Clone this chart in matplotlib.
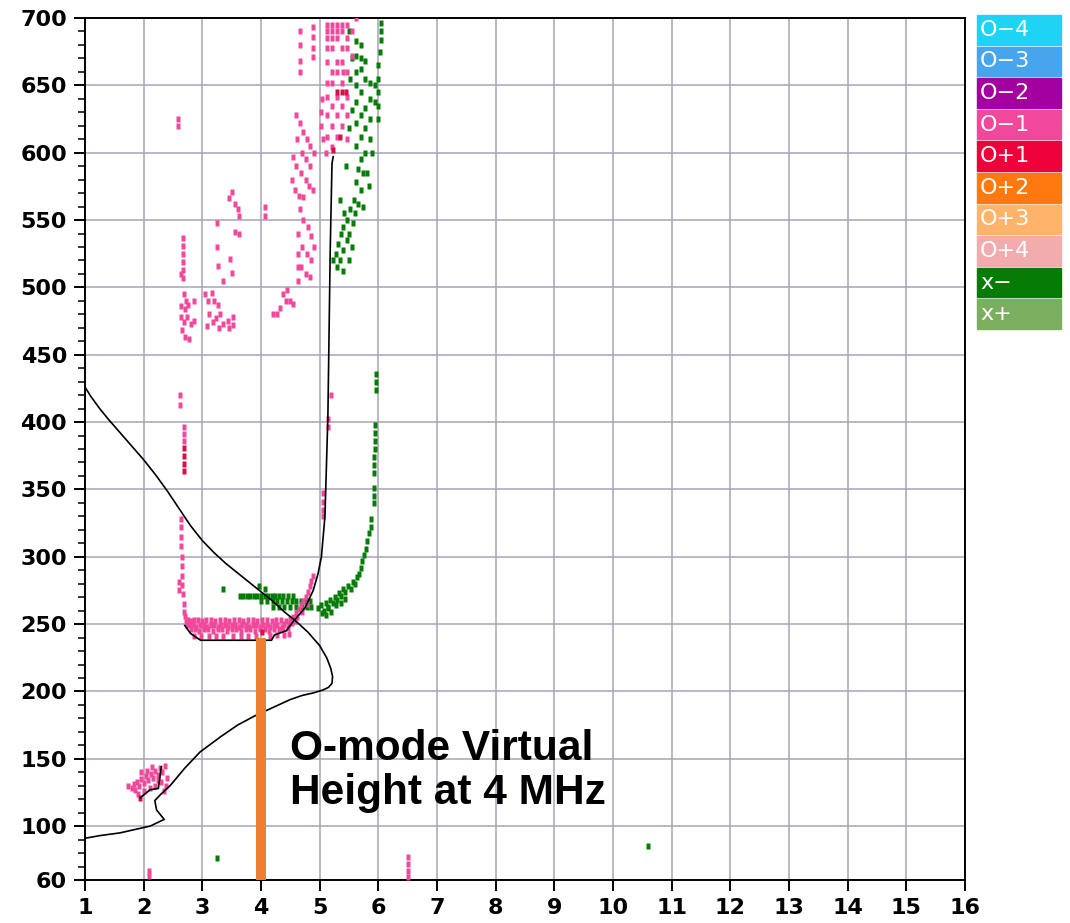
import matplotlib
matplotlib.use("Agg")
import matplotlib.pyplot as plt
from matplotlib.patches import Rectangle

# ---------------- data ----------------
x_ticks = list(range(1, 17))
y_ticks = [60, 100, 150, 200, 250, 300, 350, 400, 450, 500, 550, 600, 650, 700]

legend_labels = ["O\u22124", "O\u22123", "O\u22122", "O\u22121", "O+1", "O+2", "O+3", "O+4", "x\u2212", "x+"]
legend_colors = ["#1ed3f4", "#47a5ee", "#a4009f", "#f2489c", "#ee003a",
                 "#ff7810", "#ffb46a", "#f2acae", "#047c06", "#7cae60"]

# O-1 echoes: main F-trace band
o1_band_f = [2.72, 2.76, 2.81, 2.86, 2.93, 3.00, 3.06, 3.14, 3.22, 3.30, 3.38, 3.46, 3.54, 3.62, 3.70,
             3.78, 3.86, 3.94, 4.02, 4.10, 4.18, 4.26, 4.34, 4.42, 4.50,
             2.74, 2.79, 2.84, 2.90, 2.96, 3.03, 3.08, 3.15, 3.20, 3.27, 3.32, 3.39, 3.44, 3.51, 3.56,
             3.63, 3.68, 3.75, 3.80, 3.87, 3.92, 3.99, 4.04, 4.11, 4.16, 4.23, 4.28, 4.35, 4.40, 4.47, 4.53, 4.58,
             2.80, 2.88, 2.95, 3.02, 3.10, 3.18, 3.26, 3.34, 3.42, 3.50, 3.58, 3.66, 3.74, 3.82, 3.90,
             3.98, 4.06, 4.14, 4.22, 4.30, 4.38, 4.46,
             2.86, 2.98, 3.12, 3.24, 3.36, 3.52, 3.66, 3.78, 3.92, 4.16, 4.28, 4.40, 4.48]
o1_band_h = [253, 253, 252, 253, 253, 252, 253, 253, 252, 253, 253, 252, 253, 253, 252,
             253, 253, 252, 253, 253, 252, 253, 253, 252, 254,
             249, 249, 249, 248, 249, 249, 248, 249, 249, 248, 249, 249, 248, 249, 249,
             248, 249, 249, 248, 249, 249, 248, 249, 249, 248, 249, 249, 248, 250, 250, 251, 252,
             246, 246, 245, 246, 246, 245, 246, 246, 245, 246, 246, 245, 246, 246, 245,
             246, 246, 245, 246, 246, 246, 247,
             241, 241, 241, 241, 241, 241, 241, 241, 241, 241, 242, 242, 243]

# O-1 echoes: trace edges, low-frequency cusp and scattered returns
o1_trace_f = [2.63, 2.63, 2.64, 2.64, 2.65, 2.65, 2.66, 2.66, 2.67, 2.68, 2.69, 2.70, 2.61, 2.61,
              4.55, 4.60, 4.64, 4.68, 4.72, 4.76, 4.80, 4.83, 4.86, 4.88, 4.62, 4.70, 4.78,
              5.06, 5.06, 5.06, 5.06, 5.15, 5.15, 5.20]
o1_trace_h = [328, 322, 315, 308, 300, 293, 286, 279, 272, 265, 259, 256, 281, 275,
              255, 258, 261, 264, 267, 270, 274, 278, 282, 286, 255, 259, 265,
              347, 341, 335, 330, 402, 396, 420]

o1_e_f = [1.74, 1.80, 1.84, 1.88, 1.92, 1.96, 2.00, 2.04, 2.08, 2.12, 2.16, 2.20, 2.24, 2.28, 2.32,
          2.36, 2.40, 2.38, 2.34, 1.90, 2.00, 2.10, 2.20, 2.30, 1.95, 2.15, 2.05, 2.25, 1.86,
          2.09, 2.09, 6.50, 6.50, 6.50, 6.50]
o1_e_h = [130, 128, 131, 133, 130, 135, 132, 137, 134, 139, 136, 141, 138, 143, 140,
          145, 136, 130, 126, 124, 126, 128, 130, 133, 140, 144, 141, 134, 127,
          63, 67, 62, 67, 72, 77]

o1_upper_f = [2.62, 2.62, 2.69, 2.69, 2.69, 2.58, 2.58,
              2.67, 2.67, 2.67, 2.67, 2.67, 2.67, 2.63, 2.68, 2.72, 2.64, 2.70, 2.76, 2.85, 2.64,
              2.69, 2.74, 2.80, 2.86, 2.66, 2.70, 2.78,
              3.05, 3.10, 3.16, 3.20, 3.26, 3.12, 3.18, 3.24, 3.30, 3.36, 3.44, 3.52, 3.08, 3.28, 3.45, 3.52,
              3.45, 3.50, 3.55, 3.60, 3.63, 3.25, 3.25, 3.27, 3.48, 3.50, 3.36, 3.55, 3.62,
              4.07, 4.07, 4.38, 4.42, 4.33, 4.20, 4.27, 4.45, 4.50, 4.55,
              4.63, 4.63, 4.63, 4.63,
              4.66, 4.66, 4.66, 4.66, 4.89, 4.89, 4.89, 4.89,
              4.60, 4.66, 4.72, 4.78, 4.84, 4.90, 4.62, 4.70, 4.76, 4.84, 4.55, 4.60, 4.68, 4.76,
              4.82, 4.52, 4.58, 4.64, 4.72, 4.88,
              4.66, 4.72, 4.80, 4.86, 4.70, 4.78, 4.86, 4.68, 4.76, 4.84, 4.90,
              5.02, 5.02, 5.06, 5.10, 5.04,
              5.13, 5.21, 5.30, 5.38, 5.47, 5.13, 5.21, 5.30, 5.38, 5.13, 5.21, 5.30, 5.47,
              5.13, 5.21, 5.38, 5.47, 5.13, 5.30, 5.38, 5.21, 5.30, 5.47, 5.13, 5.21, 5.38,
              5.13, 5.30, 5.47, 5.21, 5.38, 5.13, 5.30, 5.47, 5.21, 5.38, 5.13, 5.30, 5.21,
              5.40, 5.55, 5.47, 5.55, 5.62]
o1_upper_h = [420, 413, 396, 391, 386, 620, 625,
              537, 531, 525, 519, 513, 507, 510, 495, 490, 486, 484, 487, 490, 478,
              474, 478, 473, 475, 468, 463, 462,
              495, 490, 496, 490, 487, 480, 474, 477, 480, 473, 475, 472, 471, 470, 470, 478,
              566, 571, 562, 558, 553, 548, 530, 516, 521, 511, 505, 541, 540,
              560, 553, 495, 490, 485, 480, 480, 498, 490, 488,
              540, 525, 515, 505,
              690, 680, 668, 660, 693, 686, 678, 671,
              628, 622, 615, 610, 605, 600, 610, 600, 595, 590, 597, 590, 585, 580,
              575, 580, 572, 568, 567, 572,
              558, 550, 545, 538, 530, 525, 520, 515, 510, 508, 530,
              630, 620, 610, 600, 640,
              695, 695, 695, 695, 695, 690, 690, 690, 690, 685, 685, 685, 685,
              678, 678, 678, 678, 667, 667, 667, 660, 660, 660, 652, 652, 652,
              641, 641, 641, 635, 635, 628, 628, 628, 620, 620, 612, 612, 604,
              660, 672, 610, 690, 700]

# O+1 echoes
o1p_f = [2.69, 2.69, 2.69, 2.69, 4.02, 1.93, 5.30, 5.38, 5.45, 5.22, 5.34]
o1p_h = [381, 375, 369, 364, 244, 121, 645, 645, 645, 602, 612]

# X-mode echoes
xm_f = [3.64, 3.70, 3.76, 3.82, 3.88, 3.94, 4.00, 4.06, 4.12, 4.18, 4.24, 4.30, 4.38, 4.46, 4.54,
        4.00, 4.10, 4.20, 4.28, 4.36, 4.44, 4.52, 4.60, 4.68, 4.76, 4.84,
        4.20, 4.30, 4.40, 4.50, 4.60, 4.70, 4.78, 4.86, 3.35, 3.97, 4.06,
        4.97, 5.02, 5.07, 5.10, 5.15, 5.18, 5.22, 5.26, 5.30, 5.33, 5.37, 5.40, 5.44, 5.49, 5.53,
        5.56, 5.60, 5.63, 5.67, 5.70, 5.72, 5.76, 5.79, 5.80, 5.84, 5.88, 5.88, 5.92, 5.92, 5.92,
        5.92, 5.93, 5.93, 5.95, 5.95, 5.95, 5.95, 5.96, 5.96, 5.96,
        5.04, 5.10, 5.20, 5.14, 5.28, 5.36, 5.44,
        3.25, 10.60]
xm_h = [271, 271, 271, 271, 271, 271, 271, 271, 271, 271, 271, 271, 271, 271, 271,
        267, 267, 267, 267, 267, 267, 267, 267, 267, 267, 267,
        263, 263, 263, 263, 263, 263, 263, 263, 276, 278, 276,
        262, 264, 260, 266, 263, 268, 266, 270, 268, 273, 271, 276, 274, 278, 276,
        281, 280, 285, 287, 292, 297, 301, 306, 312, 318, 322, 328, 340, 345, 351,
        362, 368, 374, 380, 386, 392, 398, 424, 430, 436,
        258, 257, 259, 262, 264, 266, 269,
        76, 85]

xm_upper_f = [6.05, 6.05, 6.05, 6.02, 6.00, 6.00, 6.00, 6.00, 6.00,
              5.62, 5.70, 5.62, 5.70, 5.78, 5.62, 5.70, 5.78, 5.86, 5.94, 5.62, 5.70, 5.86, 5.94,
              5.62, 5.78, 5.70, 5.86, 5.62, 5.78, 5.70, 5.86, 5.62, 5.78, 5.70, 5.66, 5.74, 5.62,
              5.70, 5.66, 5.60, 5.56, 5.50, 5.46, 5.40, 5.36, 5.32, 5.28, 5.34, 5.40, 5.46, 5.52,
              5.58, 5.30, 5.40, 5.50, 5.22, 5.55, 5.50, 5.55, 5.52, 5.55, 5.50,
              5.80, 5.90, 5.74, 5.84, 5.45, 5.35, 5.42]
xm_upper_h = [696, 690, 684, 675, 665, 655, 645, 635, 625,
              683, 680, 672, 670, 668, 660, 662, 655, 652, 650, 650, 645, 640, 638,
              638, 633, 628, 625, 622, 618, 612, 610, 605, 600, 595, 588, 585, 578,
              572, 562, 555, 548, 540, 535, 545, 540, 532, 525, 520, 528, 550, 558,
              565, 515, 512, 520, 520, 530, 690, 670, 655, 632, 618,
              585, 600, 560, 575, 590, 565, 555]

# Scaled real-height profile and fitted O-trace
prof_f = [1.00, 1.10, 1.25, 1.40, 1.60, 1.80, 2.00, 2.20, 2.40, 2.60, 2.80, 3.00, 3.20, 3.40,
          3.60, 3.80, 4.00, 4.20, 4.40, 4.60, 4.80, 5.00, 5.12, 5.19, 5.22, 5.21, 5.15,
          5.05, 4.90, 4.70, 4.50, 4.20, 3.90, 3.60, 3.30, 2.96, 2.70, 2.45,
          2.30, 2.19, 2.22, 2.35, 2.11, 1.80, 1.60, 1.26, 1.00]
prof_h = [426, 419, 410, 402, 392, 382, 372, 361, 349, 336, 323, 312, 303, 295,
          288, 281, 274, 267, 259, 252, 244, 234, 225, 217, 211, 206, 203,
          201, 199, 197, 194, 188, 182, 175, 166, 155, 143, 130,
          124, 119, 112, 105, 100, 97, 95, 93, 91]

trace_f = [2.70, 2.80, 2.97, 3.50, 4.18, 4.23, 4.43, 4.55, 4.75, 4.89, 4.97, 5.03, 5.09, 5.14,
           5.18, 5.21, 5.23]
trace_h = [249, 243, 238, 238, 238, 242, 245, 252, 262, 275, 287, 300, 330, 404, 528, 592, 597]

cusp_f = [1.94, 2.11, 2.25, 2.30]
cusp_h = [121, 127, 128, 144]

# virtual height at 4 MHz
bar_freq = 4.0
bar_height = 240

# ---------------- figure ----------------
W, H = 1070, 923
fig = plt.figure(figsize=(W / 100, H / 100), dpi=100)
ax = fig.add_axes([85 / W, 1 - 880 / H, 880 / W, 862 / H])
ax.set_xlim(1, 16)
ax.set_ylim(60, 700)

grid_col = "#a4a4b6"
for xv in x_ticks[1:-1]:
    ax.axvline(xv, color=grid_col, lw=1.1, zorder=0)
for yv in y_ticks[1:-1]:
    ax.axhline(yv, color=grid_col, lw=1.1, zorder=0)

dash = [(-0.5, -1), (0.5, -1), (0.5, 1), (-0.5, 1), (-0.5, -1)]


def echoes(f, h, color, z=3):
    ax.plot(f, h, ls="none", marker=dash, ms=4.6, color=color, mec="none", zorder=z)


echoes(o1_band_f, o1_band_h, legend_colors[3])
echoes(o1_trace_f, o1_trace_h, legend_colors[3])
echoes(o1_e_f, o1_e_h, legend_colors[3])
echoes(o1_upper_f, o1_upper_h, legend_colors[3])
echoes(xm_f, xm_h, legend_colors[8], z=2)
echoes(xm_upper_f, xm_upper_h, legend_colors[8], z=2)
echoes(o1p_f, o1p_h, "#d8104a", z=4)

ax.plot(prof_f, prof_h, color="black", lw=1.2, zorder=5)
ax.plot(trace_f, trace_h, color="black", lw=1.2, zorder=5)
ax.plot(cusp_f, cusp_h, color="black", lw=1.2, zorder=5)

ax.bar(bar_freq, bar_height - 60, bottom=60, width=0.17, color="#ef7f2e", zorder=6)

ax.text(4.5, 172, "O-mode Virtual\nHeight at 4 MHz", family="Liberation Sans",
        fontweight="bold", fontsize=30.5, ha="left", va="top", linespacing=1.12, zorder=7)

ax.set_xticks(x_ticks)
ax.set_yticks(y_ticks)
ax.set_yticks(list(range(60, 701, 10)), minor=True)
ax.tick_params(axis="both", which="major", direction="out", length=8, width=1.4,
               labelsize=16, pad=5, color="black")
ax.tick_params(axis="y", which="minor", direction="out", length=5, width=1.1)
for lab in ax.get_xticklabels() + ax.get_yticklabels():
    lab.set_fontweight("bold")
    lab.set_family("DejaVu Sans")
for sp in ax.spines.values():
    sp.set_color("black")
    sp.set_linewidth(1.4)

# colour-code key on the right
box_x, box_w = 977, 84
top, step = 15, 31.6
for i, (lab, col) in enumerate(zip(legend_labels, legend_colors)):
    y0 = top + i * step
    fig.patches.append(Rectangle((box_x / W, 1 - (y0 + step - 2) / H), box_w / W, (step - 2) / H,
                                 transform=fig.transFigure, color=col))
    fig.text((box_x + 3) / W, 1 - (y0 + (step - 2) / 2) / H, lab, color="white",
             fontsize=16, family="DejaVu Sans", ha="left", va="center")

fig.savefig("out.png", dpi=100)
